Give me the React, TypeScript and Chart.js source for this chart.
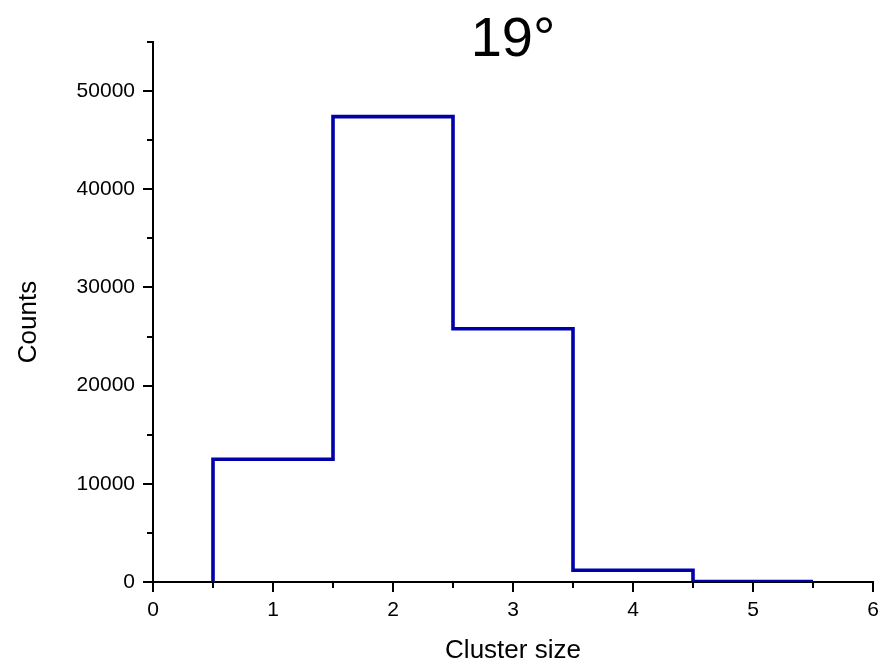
import React, { useEffect, useRef } from "react";
import { Chart, registerables } from "chart.js";

Chart.register(...registerables);

const binCenters = [1, 2, 3, 4, 5];
const counts = [12500, 47400, 25800, 1200, 40];
const yTickValues = [0, 10000, 20000, 30000, 40000, 50000];
const xTickValues = [0, 1, 2, 3, 4, 5, 6];
const titleText = "19°";
const xTitle = "Cluster size";
const yTitle = "Counts";
const xMin = 0;
const xMax = 6;
const yMin = 0;
const yMax = 55000;
const xMinorStep = 0.5;
const yMinorStep = 5000;

const FONT = "'Liberation Sans', Arial, sans-serif";

export default function App() {
  const ref = useRef<HTMLCanvasElement | null>(null);

  useEffect(() => {
    if (!ref.current) return;
    const pts: { x: number; y: number }[] = [{ x: binCenters[0] - 0.5, y: 0 }];
    binCenters.forEach((c, i) => {
      pts.push({ x: c - 0.5, y: counts[i] });
      pts.push({ x: c + 0.5, y: counts[i] });
    });

    const decor = {
      id: "decor",
      afterDraw(chart: any) {
        const ctx = chart.ctx;
        const xs = chart.scales.x;
        const ys = chart.scales.y;
        const area = chart.chartArea;
        ctx.save();
        ctx.strokeStyle = "#000";
        ctx.lineWidth = 2;
        // minor ticks
        for (let v = xMin + xMinorStep; v < xMax; v += 1) {
          const px = Math.round(xs.getPixelForValue(v));
          ctx.beginPath();
          ctx.moveTo(px, area.bottom);
          ctx.lineTo(px, area.bottom + 6);
          ctx.stroke();
        }
        for (let v = yMin + yMinorStep; v <= yMax; v += 10000) {
          const py = Math.round(ys.getPixelForValue(v));
          ctx.beginPath();
          ctx.moveTo(area.left, py);
          ctx.lineTo(area.left - 6, py);
          ctx.stroke();
        }
        // title
        ctx.fillStyle = "#000";
        ctx.textAlign = "center";
        ctx.textBaseline = "alphabetic";
        ctx.font = `56px ${FONT}`;
        ctx.fillText(titleText, (area.left + area.right) / 2, 56);
        // x title
        ctx.font = `26px ${FONT}`;
        ctx.fillText(xTitle, (area.left + area.right) / 2, 658);
        // y title
        ctx.translate(36, 322);
        ctx.rotate(-Math.PI / 2);
        ctx.fillText(yTitle, 0, 0);
        ctx.restore();
      },
    };

    const chart = new Chart(ref.current, {
      type: "line",
      data: {
        datasets: [
          {
            data: pts,
            borderColor: "#0000AA",
            borderWidth: 3.6,
            pointRadius: 0,
            fill: false,
            tension: 0,
            borderJoinStyle: "miter",
          },
        ],
      },
      options: {
        animation: false,
        responsive: false,
        layout: { padding: { left: 0, top: 42, right: 11, bottom: 0 } },
        plugins: { legend: { display: false }, tooltip: { enabled: false }, title: { display: false } },
        scales: {
          x: {
            type: "linear",
            min: xMin,
            max: xMax,
            border: { display: true, color: "#000", width: 2 },
            grid: { display: true, drawOnChartArea: false, drawTicks: true, tickLength: 10, tickWidth: 2, tickColor: "#000", color: "#000", lineWidth: 2 },
            ticks: { color: "#000", font: { family: FONT, size: 21 }, padding: 6, maxRotation: 0, callback: (v: any) => String(v) },
            afterBuildTicks(scale: any) {
              scale.ticks = xTickValues.map((v) => ({ value: v }));
            },
            afterFit(scale: any) {
              scale.height = 85;
              scale.paddingLeft = 0;
              scale.paddingRight = 0;
            },
          },
          y: {
            type: "linear",
            min: yMin,
            max: yMax,
            border: { display: true, color: "#000", width: 2 },
            grid: { display: true, drawOnChartArea: false, drawTicks: true, tickLength: 10, tickWidth: 2, tickColor: "#000", color: "#000", lineWidth: 2 },
            ticks: { color: "#000", font: { family: FONT, size: 21 }, padding: 8, callback: (v: any) => String(v) },
            afterBuildTicks(scale: any) {
              scale.ticks = yTickValues.map((v) => ({ value: v }));
            },
            afterFit(scale: any) {
              scale.width = 153;
              scale.paddingTop = 0;
              scale.paddingBottom = 0;
            },
          },
        },
      },
      plugins: [decor],
    } as any);
    return () => chart.destroy();
  }, []);

  return (
    <div style={{ position: "fixed", left: 0, top: 0, width: 884, height: 667, background: "#fff" }}>
      <canvas ref={ref} width={884} height={667} style={{ display: "block" }} />
    </div>
  );
}
